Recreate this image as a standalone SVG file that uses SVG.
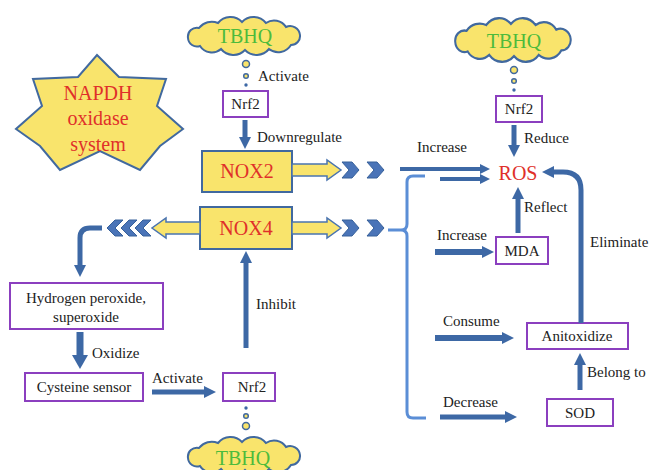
<svg xmlns="http://www.w3.org/2000/svg" width="650" height="470" viewBox="0 0 650 470">
<style>
text{font-family:'Liberation Serif','Noto Serif','DejaVu Serif',serif;}
.lbl{font-size:15px;fill:#222;}
.box{fill:#fff;stroke:#8b3fbf;stroke-width:2;}
.bt{font-size:15px;fill:#222;text-anchor:middle;}
.ybox{fill:#f9e46c;stroke:#41699f;stroke-width:2;}
.big{font-size:20px;fill:#e0302a;text-anchor:middle;}
.tb{font-size:20px;fill:#4cbb3c;text-anchor:middle;}
.cloud{fill:#f9e46c;stroke:#41699f;stroke-width:2;}
.yarr{fill:#f9e46c;stroke:#4a74b0;stroke-width:1.5;}
.chev{fill:#4a74b8;stroke:#36609a;stroke-width:1;}
.arr{fill:none;stroke:#3d68a5;stroke-width:5;}
.dotY{fill:#f9e46c;stroke:#41699f;stroke-width:1.5;}
.dotB{fill:#3d68a5;}
</style>
<defs>
<path id="cloudp" d="M-57,2 A9,9 0 0 1 -46,-8 A16,16 0 0 1 -27,-13 A16,16 0 0 1 -3,-14 A16,16 0 0 1 21,-13 A14,14 0 0 1 41,-9 A10,10 0 0 1 55,-1 A9,9 0 0 1 46,9 A15,15 0 0 1 24,13 A16,16 0 0 1 0,14 A16,16 0 0 1 -24,13 A14,14 0 0 1 -45,10 A9,9 0 0 1 -57,2 Z"/>
<marker id="ah" markerUnits="userSpaceOnUse" markerWidth="12" markerHeight="12" viewBox="0 0 12 12" refX="2" refY="6" orient="auto"><path d="M0,0 L12,6 L0,12 Z" fill="#3d68a5"/></marker>
<marker id="ahs" markerUnits="userSpaceOnUse" markerWidth="10" markerHeight="10" viewBox="0 0 10 10" refX="2" refY="5" orient="auto"><path d="M0,0 L10,5 L0,10 Z" fill="#3d68a5"/></marker>
<marker id="ahl" markerUnits="userSpaceOnUse" markerWidth="14" markerHeight="16" viewBox="0 0 14 16" refX="2" refY="8" orient="auto"><path d="M0,0 L14,8 L0,16 Z" fill="#3d68a5"/></marker>
</defs>

<g id="star">
<polygon fill="#f9e46c" stroke="#41699f" stroke-width="2" points="97,55 119,77 166,79 157,106 183,129 160,146 140,170 100,151 60,170 40,146 16,129 42,106 33,79 78,77"/>
<text class="big" x="98" y="100">NAPDH</text>
<text class="big" x="98" y="125">oxidase</text>
<text class="big" x="98" y="151">system</text>
</g>

<g id="tbhq1" transform="translate(245,36)">
<use href="#cloudp" class="cloud"/>
<text class="tb" x="0" y="7">TBHQ</text>
</g>
<g id="tbhq2" transform="translate(514,40)">
<use href="#cloudp" class="cloud" transform="scale(1.03,1.15)"/>
<text class="tb" x="0" y="8">TBHQ</text>
</g>
<g id="tbhq3" transform="translate(245,456)">
<use href="#cloudp" class="cloud"/>
<text class="tb" x="-2" y="9">TBHQ</text>
</g>

<g id="nrf2-top">
<rect class="box" x="223" y="91" width="45" height="26"/>
<text class="bt" x="245.5" y="109">Nrf2</text>
</g>
<g id="nrf2-right">
<rect class="box" x="496" y="96" width="46" height="26"/>
<text class="bt" x="519" y="114">Nrf2</text>
</g>
<g id="nrf2-bottom">
<rect class="box" x="223" y="373" width="52" height="28"/>
<text class="bt" x="252" y="392">Nrf2</text>
</g>

<g id="nox2">
<rect class="ybox" x="202" y="151" width="90" height="41"/>
<text class="big" x="247" y="178">NOX2</text>
</g>
<g id="nox4">
<rect class="ybox" x="200" y="207" width="92" height="42"/>
<text class="big" x="246" y="235">NOX4</text>
</g>

<g id="ros">
<text class="big" x="518" y="180">ROS</text>
</g>
<g id="hydrogen">
<rect class="box" x="10" y="283" width="153" height="46"/>
<text class="bt" x="86" y="303">Hydrogen peroxide,</text>
<text class="bt" x="86" y="322">superoxide</text>
</g>
<g id="cysteine">
<rect class="box" x="25" y="373" width="118" height="28"/>
<text class="bt" x="84" y="392">Cysteine sensor</text>
</g>
<g id="mda">
<rect class="box" x="496" y="237" width="52" height="27"/>
<text class="bt" x="522" y="256">MDA</text>
</g>
<g id="anitoxidize">
<rect class="box" x="527" y="323" width="101" height="26"/>
<text class="bt" x="577" y="341">Anitoxidize</text>
</g>
<g id="sod">
<rect class="box" x="547" y="399" width="66" height="27"/>
<text class="bt" x="580" y="418">SOD</text>
</g>

<g id="connectors">
<circle class="dotY" cx="246" cy="64" r="3.5"/>
<circle class="dotY" cx="246" cy="76" r="2.3"/>
<circle class="dotB" cx="246" cy="85" r="1.7"/>
<circle class="dotY" cx="514" cy="70" r="3.5"/>
<circle class="dotY" cx="514" cy="81" r="2.3"/>
<circle class="dotB" cx="514" cy="90" r="1.7"/>
<circle class="dotB" cx="246" cy="408" r="1.7"/>
<circle class="dotY" cx="246" cy="416" r="2.3"/>
<circle class="dotY" cx="246" cy="426" r="3.5"/>

<polygon class="yarr" points="292,164 327,164 327,160 341,170 327,180 327,176 292,176"/>
<polygon class="yarr" points="292,222 327,222 327,218 341,228 327,238 327,234 292,234"/>
<polygon class="yarr" points="200,222 166,222 166,218 152,228 166,238 166,234 200,234"/>

<polygon class="chev" points="342,162 352,162 359,170 352,178 342,178 349,170"/>
<polygon class="chev" points="367,162 377,162 384,170 377,178 367,178 374,170"/>
<polygon class="chev" points="342,220 352,220 359,228 352,236 342,236 349,228"/>
<polygon class="chev" points="367,220 377,220 384,228 377,236 367,236 374,228"/>
<polygon class="chev" points="107,228 115,220 123,220 115,228 123,236 115,236"/>
<polygon class="chev" points="121,228 129,220 137,220 129,228 137,236 129,236"/>
<polygon class="chev" points="135,228 143,220 151,220 143,228 151,236 143,236"/>

<path d="M425,176 L413,176 Q407,176 407,182 L407,224 Q407,230 401,230 L388,230 M401,230 Q407,230 407,236 L407,412 Q407,418 413,418 L426,418" fill="none" stroke="#5b8ed6" stroke-width="3"/>

<path class="arr" d="M245,120 L245,139" marker-end="url(#ah)"/>
<path class="arr" d="M514,125 L514,147" marker-end="url(#ah)"/>
<path class="arr" style="stroke-width:4" d="M400,169 L482,169" marker-end="url(#ahs)"/>
<path class="arr" style="stroke-width:4" d="M440,179 L482,179" marker-end="url(#ahs)"/>
<path class="arr" d="M518,233 L518,197" marker-end="url(#ah)"/>
<path class="arr" style="stroke-width:6" d="M435,252 L484,252" marker-end="url(#ah)"/>
<path class="arr" style="stroke-width:6" d="M435,338 L504,338" marker-end="url(#ah)"/>
<path class="arr" d="M440,417 L507,417" marker-end="url(#ah)"/>
<path class="arr" d="M580,390 L580,363" marker-end="url(#ah)"/>
<path class="arr" d="M581,323 L581,190 Q581,172 563,172 L552,172" marker-end="url(#ah)"/>
<path class="arr" d="M246,348 L246,261" marker-end="url(#ah)"/>
<path class="arr" d="M152,392 L206,392" marker-end="url(#ah)"/>
<path class="arr" style="stroke-width:7" d="M80,332 L80,357" marker-end="url(#ahl)"/>
<path class="arr" d="M102,228 L90,228 Q80,228 80,238 L80,267" marker-end="url(#ah)"/>

<text class="lbl" x="258" y="81">Activate</text>
<text class="lbl" x="257" y="142">Downregulate</text>
<text class="lbl" x="524" y="143">Reduce</text>
<text class="lbl" x="417" y="152">Increase</text>
<text class="lbl" x="524" y="212">Reflect</text>
<text class="lbl" x="437" y="240">Increase</text>
<text class="lbl" x="590" y="247">Eliminate</text>
<text class="lbl" x="443" y="326">Consume</text>
<text class="lbl" x="587" y="377">Belong to</text>
<text class="lbl" x="443" y="407">Decrease</text>
<text class="lbl" x="256" y="309">Inhibit</text>
<text class="lbl" x="92" y="358">Oxidize</text>
<text class="lbl" x="152" y="383">Activate</text>
</g>
</svg>
